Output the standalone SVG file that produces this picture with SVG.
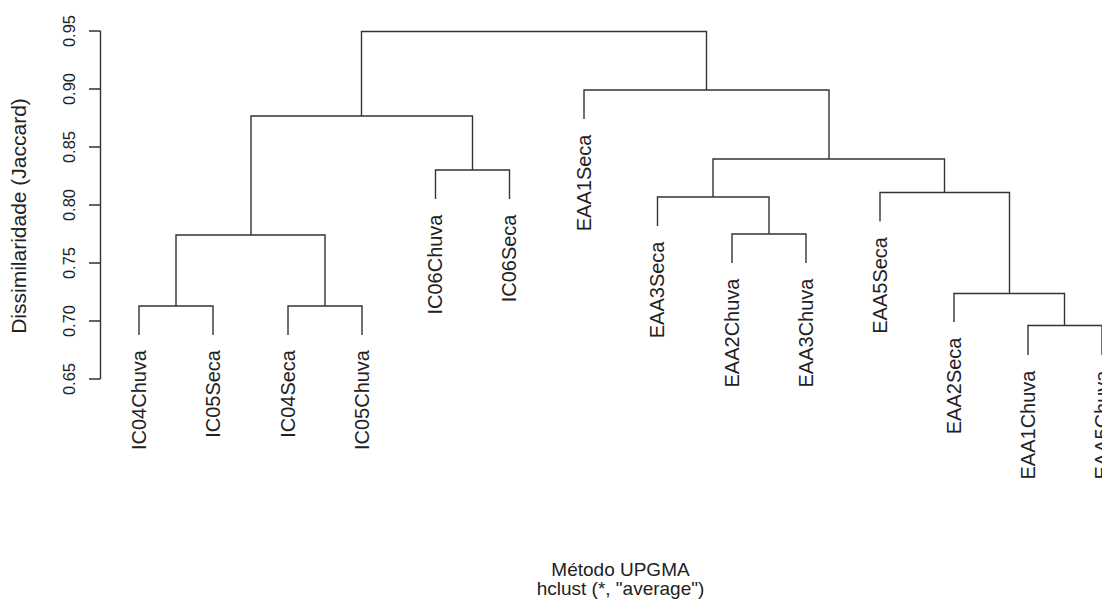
<svg xmlns="http://www.w3.org/2000/svg" width="1102" height="602" viewBox="0 0 1102 602">
  <style>
    .seg { fill: none; stroke: #333; stroke-width: 1.4; }
    .lbl { font-family: "Liberation Sans", Arial, sans-serif; font-size: 20px; fill: #222; text-anchor: end; }
    .tick { font-family: "Liberation Sans", Arial, sans-serif; font-size: 16.5px; fill: #222; text-anchor: middle; }
    .title { font-family: "Liberation Sans", Arial, sans-serif; font-size: 21px; fill: #222; text-anchor: middle; }
    .cap { font-family: "Liberation Sans", Arial, sans-serif; font-size: 19px; fill: #222; text-anchor: middle; }
  </style>
  <rect width="1102" height="602" fill="#fff"/>

  <!-- y axis: Jaccard dissimilarity from 0.65 to 0.95 -->
  <g id="axis">
    <path class="seg" d="M100.5 31 V379 M89 31 H100.5 M89 89 H100.5 M89 147 H100.5 M89 205 H100.5 M89 263 H100.5 M89 321 H100.5 M89 379 H100.5"/>
    <text class="tick" transform="translate(75 31) rotate(-90)">0.95</text>
    <text class="tick" transform="translate(75 89) rotate(-90)">0.90</text>
    <text class="tick" transform="translate(75 147) rotate(-90)">0.85</text>
    <text class="tick" transform="translate(75 205) rotate(-90)">0.80</text>
    <text class="tick" transform="translate(75 263) rotate(-90)">0.75</text>
    <text class="tick" transform="translate(75 321) rotate(-90)">0.70</text>
    <text class="tick" transform="translate(75 379) rotate(-90)">0.65</text>
    <text class="title" transform="translate(25.5 216) rotate(-90)">Dissimilaridade (Jaccard)</text>
  </g>

  <!-- dendrogram branches -->
  <g id="connectors">
    <!-- root -->
    <path class="seg" d="M361.5 116 V31.5 H706.5 V90"/>
    <!-- IC cluster -->
    <path class="seg" d="M251 235 V116 H472.5 V170"/>
    <path class="seg" d="M176 306 V235 H325 V306"/>
    <path class="seg" d="M139 335 V306 H213 V335"/>
    <path class="seg" d="M288 335 V306 H362 V335"/>
    <path class="seg" d="M435.5 199 V170 H509.5 V199"/>
    <!-- EAA cluster -->
    <path class="seg" d="M584 119 V90 H829 V159"/>
    <path class="seg" d="M713 197 V159 H944.5 V192.5"/>
    <path class="seg" d="M657.5 226 V197 H769 V234"/>
    <path class="seg" d="M732 263 V234 H806 V263"/>
    <path class="seg" d="M880 221.5 V192.5 H1009.5 V293.5"/>
    <path class="seg" d="M954 322 V293.5 H1064.5 V325.5"/>
    <path class="seg" d="M1028 355 V325.5 H1102 V355"/>
  </g>

  <!-- leaves -->
  <g id="IC04Chuva"><text class="lbl" transform="translate(145.5 350) rotate(-90)">IC04Chuva</text></g>
  <g id="IC05Seca"><text class="lbl" transform="translate(219.5 350) rotate(-90)">IC05Seca</text></g>
  <g id="IC04Seca"><text class="lbl" transform="translate(294.5 350) rotate(-90)">IC04Seca</text></g>
  <g id="IC05Chuva"><text class="lbl" transform="translate(368.5 350) rotate(-90)">IC05Chuva</text></g>
  <g id="IC06Chuva"><text class="lbl" transform="translate(442 214.5) rotate(-90)">IC06Chuva</text></g>
  <g id="IC06Seca"><text class="lbl" transform="translate(516 214.5) rotate(-90)">IC06Seca</text></g>
  <g id="EAA1Seca"><text class="lbl" transform="translate(590.5 134.5) rotate(-90)">EAA1Seca</text></g>
  <g id="EAA3Seca"><text class="lbl" transform="translate(664 241.5) rotate(-90)">EAA3Seca</text></g>
  <g id="EAA2Chuva"><text class="lbl" transform="translate(738.5 278.5) rotate(-90)">EAA2Chuva</text></g>
  <g id="EAA3Chuva"><text class="lbl" transform="translate(812.5 278.5) rotate(-90)">EAA3Chuva</text></g>
  <g id="EAA5Seca"><text class="lbl" transform="translate(886.5 237) rotate(-90)">EAA5Seca</text></g>
  <g id="EAA2Seca"><text class="lbl" transform="translate(960.5 337.5) rotate(-90)">EAA2Seca</text></g>
  <g id="EAA1Chuva"><text class="lbl" transform="translate(1034.5 370.5) rotate(-90)">EAA1Chuva</text></g>
  <!-- last leaf runs past the right edge of the plot region -->
  <g id="EAA5Chuva"><text class="lbl" transform="translate(1108.5 370.5) rotate(-90)">EAA5Chuva</text></g>

  <!-- method captions -->
  <g id="captions">
    <text class="cap" x="620.5" y="576">Método UPGMA</text>
    <text class="cap" x="620.5" y="595">hclust (*, "average")</text>
  </g>
</svg>
